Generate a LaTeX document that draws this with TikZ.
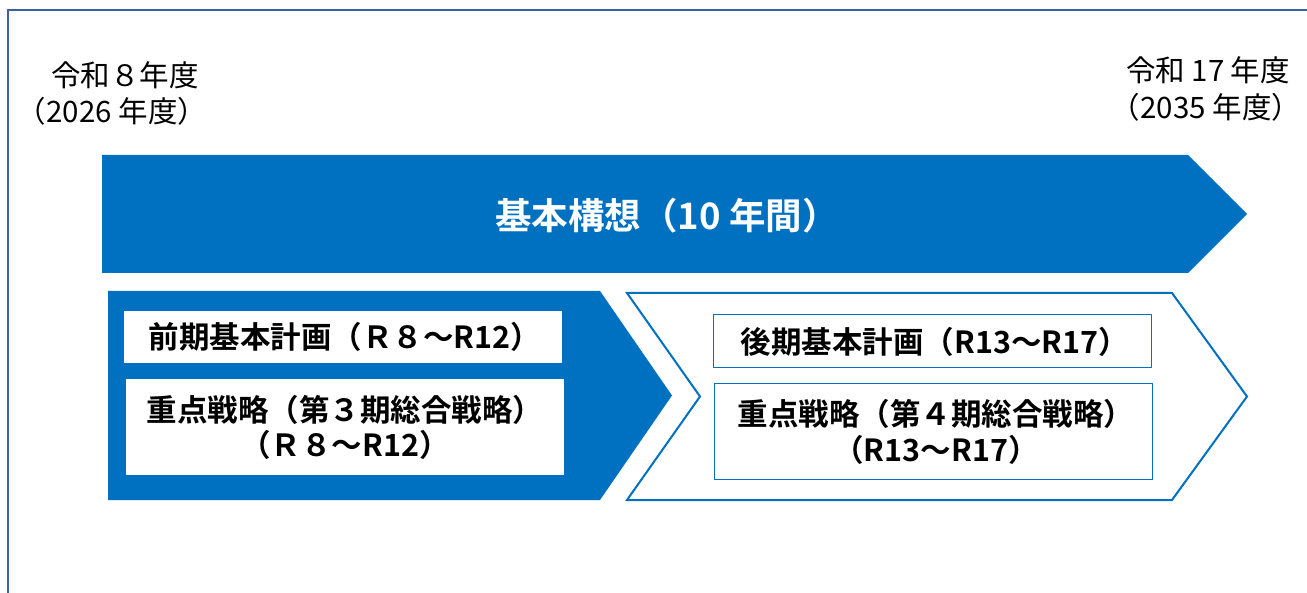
\documentclass[tikz,border=0pt]{standalone}
\usepackage{fontspec}
\setmainfont{Noto Sans CJK JP}[BoldFont={Noto Sans CJK JP Bold}]
\definecolor{mblue}{HTML}{0070C0}
\definecolor{framecol}{HTML}{3C60A4}
\begin{document}
\begin{tikzpicture}[x=1pt,y=-1pt,
  datelbl/.style={inner sep=0pt, font=\fontsize{29.5}{36}\selectfont},
  titlelbl/.style={inner sep=0pt, text=white, font=\bfseries\fontsize{36.5}{42}\selectfont},
  whitebox/.style={fill=white, inner sep=0pt, align=center, font=\bfseries\fontsize{30.5}{35}\selectfont},
  outlinebox/.style={draw=mblue, line width=1pt, fill=white, inner sep=0pt, align=center, font=\bfseries\fontsize{30.5}{36}\selectfont},
  bluefill/.style={fill=mblue},
  blueline/.style={draw=mblue, line width=2pt, line join=miter}]
\useasboundingbox (0,0) rectangle (1307,593);
\fill[white] (0,0) rectangle (1307,593);
\draw[framecol, line width=2.8pt] (8,600) -- (8,10) -- (1315,10);
% dates
\node[datelbl] (d1a) at (125,75) {令和８年度};
\node[datelbl] (d1b) at (112,111) {（2026 年度）};
\node[datelbl] (d2a) at (1208,70) {令和 17 年度};
\node[datelbl] (d2b) at (1206,107) {（2035 年度）};
% top arrow
\fill[bluefill] (102,155) -- (1188,155) -- (1247,214) -- (1188,273) -- (102,273) -- cycle;
\node[titlelbl] (kihon) at (667,216) {基本構想（10 年間）};
% left pentagon
\fill[bluefill] (108,291) -- (600,291) -- (672,395.5) -- (600,500) -- (108,500) -- cycle;
\node[whitebox, minimum width=438pt, minimum height=52pt] (zenki) at (343,337) {\hspace*{4pt}前期基本計画（Ｒ８～R12）};
\node[whitebox, minimum width=438pt, minimum height=96pt] (juten3) at (345,427) {重点戦略（第３期総合戦略）\\（Ｒ８～R12）};
% right chevron
\draw[blueline] (627,293) -- (1172,293) -- (1247,396.5) -- (1172,500) -- (627,500) -- (700,396.5) -- cycle;
\node[outlinebox, minimum width=438pt, minimum height=53pt] (kouki) at (932,341.5) {\hspace*{6pt}後期基本計画（R13～R17）};
\node[outlinebox, minimum width=438pt, minimum height=95pt] (juten4) at (933,431.5) {\hspace*{6pt}重点戦略（第４期総合戦略）\\\hspace*{6pt}（R13～R17）};
\end{tikzpicture}
\end{document}
